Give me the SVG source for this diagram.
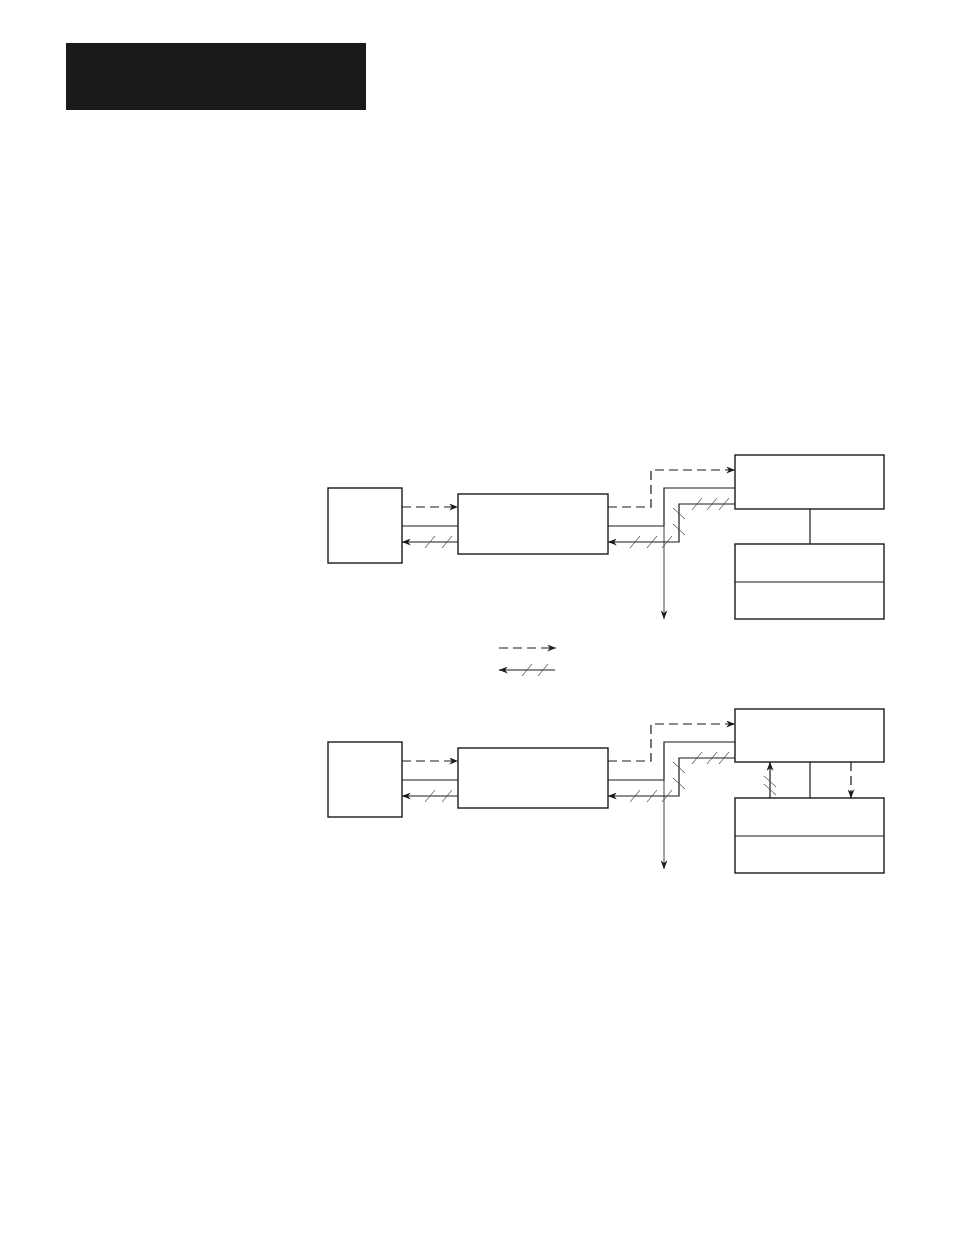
<svg xmlns="http://www.w3.org/2000/svg" width="954" height="1235" viewBox="0 0 954 1235">
<style>
.box{fill:#fff;stroke:#1a1a1a;stroke-width:1.4}
.ln{fill:none;stroke:#1a1a1a;stroke-width:1.2}
.dash{fill:none;stroke:#1a1a1a;stroke-width:1.2;stroke-dasharray:9 5}
.sl{stroke:#555;stroke-width:0.9}
.thin{fill:none;stroke:#444;stroke-width:1}
</style>
<defs>
<marker id="ah" viewBox="0 0 10 8" refX="10" refY="4" markerWidth="9" markerHeight="7" markerUnits="userSpaceOnUse" orient="auto">
<path d="M0,0 L10,4 L0,8 L3,4 Z" fill="#1a1a1a"/>
</marker>
<g id="sh"><line class="sl" x1="-5" y1="6" x2="5" y2="-6"/></g>
<g id="sv"><line class="sl" x1="-6" y1="-5" x2="6" y2="6"/></g>
</defs>
<rect id="header" x="66" y="43" width="300" height="67" fill="#1a1a1a"/>

<g id="top-left"><rect class="box" x="328" y="488" width="74" height="75"/></g>
<g id="top-mid"><rect class="box" x="458" y="494" width="150" height="60"/></g>
<g id="top-right"><rect class="box" x="735" y="455" width="149" height="54"/></g>
<g id="top-lower"><rect class="box" x="735" y="544" width="149" height="75"/><line class="ln" x1="735" y1="582" x2="884" y2="582"/></g>

<g id="bot-left"><rect class="box" x="328" y="742" width="74" height="75"/></g>
<g id="bot-mid"><rect class="box" x="458" y="748" width="150" height="60"/></g>
<g id="bot-right"><rect class="box" x="735" y="709" width="149" height="53"/></g>
<g id="bot-lower"><rect class="box" x="735" y="798" width="149" height="75"/><line class="ln" x1="735" y1="836" x2="884" y2="836"/></g>

<g id="connectors">
<!-- top -->
<line class="dash" x1="402" y1="507" x2="458" y2="507" marker-end="url(#ah)"/>
<line class="ln" x1="402" y1="526" x2="458" y2="526"/>
<line class="ln" x1="458" y1="542" x2="402" y2="542" marker-end="url(#ah)"/>
<use href="#sh" x="430" y="542"/><use href="#sh" x="447" y="542"/>
<polyline class="dash" points="608,507 651,507 651,470 735,470" marker-end="url(#ah)"/>
<polyline class="ln" points="608,526 664,526 664,488 735,488"/>
<line class="thin" x1="664" y1="526" x2="664" y2="619" marker-end="url(#ah)"/>
<polyline class="ln" points="735,504 679,504 679,542 608,542" marker-end="url(#ah)"/>
<use href="#sh" x="697" y="504"/><use href="#sh" x="712" y="504"/><use href="#sh" x="724" y="504"/>
<use href="#sv" x="679" y="513"/><use href="#sv" x="679" y="529"/>
<use href="#sh" x="635" y="542"/><use href="#sh" x="652" y="542"/><use href="#sh" x="667" y="542"/>
<line class="ln" x1="810" y1="509" x2="810" y2="544"/>

<!-- legend -->
<line class="dash" x1="499" y1="648" x2="556" y2="648" marker-end="url(#ah)"/>
<line class="ln" x1="555" y1="670" x2="499" y2="670" marker-end="url(#ah)"/>
<use href="#sh" x="527" y="670"/><use href="#sh" x="543" y="670"/>

<!-- bottom -->
<line class="dash" x1="402" y1="761" x2="458" y2="761" marker-end="url(#ah)"/>
<line class="ln" x1="402" y1="780" x2="458" y2="780"/>
<line class="ln" x1="458" y1="796" x2="402" y2="796" marker-end="url(#ah)"/>
<use href="#sh" x="430" y="796"/><use href="#sh" x="447" y="796"/>
<polyline class="dash" points="608,761 651,761 651,724 735,724" marker-end="url(#ah)"/>
<polyline class="ln" points="608,780 664,780 664,742 735,742"/>
<line class="thin" x1="664" y1="780" x2="664" y2="869" marker-end="url(#ah)"/>
<polyline class="ln" points="735,758 679,758 679,796 608,796" marker-end="url(#ah)"/>
<use href="#sh" x="697" y="758"/><use href="#sh" x="712" y="758"/><use href="#sh" x="724" y="758"/>
<use href="#sv" x="679" y="767"/><use href="#sv" x="679" y="783"/>
<use href="#sh" x="635" y="796"/><use href="#sh" x="652" y="796"/><use href="#sh" x="667" y="796"/>
<line class="ln" x1="810" y1="762" x2="810" y2="798"/>
<line class="ln" x1="770" y1="798" x2="770" y2="762" marker-end="url(#ah)"/>
<use href="#sv" x="770" y="781"/><use href="#sv" x="770" y="789"/>
<line class="dash" x1="851" y1="762" x2="851" y2="798" marker-end="url(#ah)"/>
</g>
</svg>
